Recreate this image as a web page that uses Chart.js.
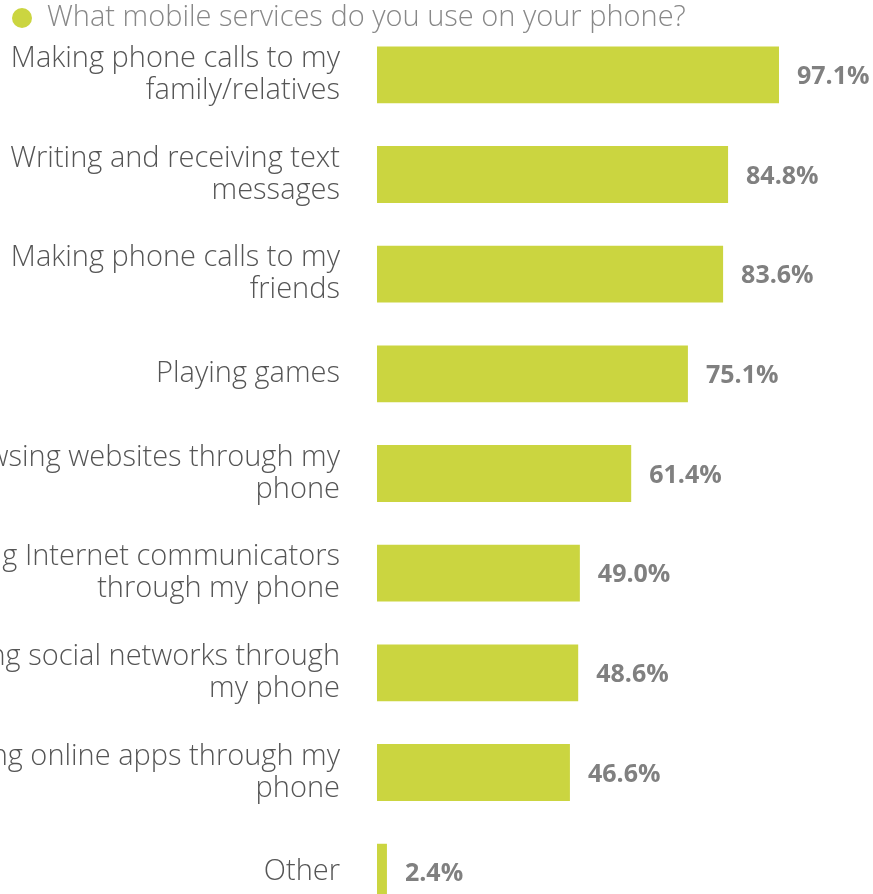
<!DOCTYPE html>
<html>
<head>
<meta charset="utf-8">
<title>Mobile services</title>
<script src="https://cdn.jsdelivr.net/npm/chart.js@4"></script>
<style>
  html, body { margin: 0; padding: 0; background: #fff; overflow: hidden; }
  #wrap { width: 873px; height: 894px; overflow: hidden; }
</style>
</head>
<body>
<div id="wrap">
  <canvas id="services" width="873" height="930"></canvas>
</div>
<script>
const seriesLabel = "What mobile services do you use on your phone?";
const categories = [
  ["Making phone calls to my", "family/relatives"],
  ["Writing and receiving text", "messages"],
  ["Making phone calls to my", "friends"],
  "Playing games",
  ["Browsing websites through my", "phone"],
  ["Using Internet communicators", "through my phone"],
  ["Using social networks through", "my phone"],
  ["Using online apps through my", "phone"],
  "Other",
];
const shares = [97.1, 84.8, 83.6, 75.1, 61.4, 49.0, 48.6, 46.6, 2.4];

const barColor = "#cbd540";
const fontFamily = "'Open Sans', 'DejaVu Sans', sans-serif";

// percentage text right after each bar
const valueLabels = {
  id: "valueLabels",
  afterDatasetsDraw(chart) {
    const ctx = chart.ctx;
    const meta = chart.getDatasetMeta(0);
    ctx.save();
    ctx.font = "bold 25px " + fontFamily;
    ctx.fillStyle = "#808080";
    ctx.textAlign = "left";
    ctx.textBaseline = "middle";
    meta.data.forEach((bar, i) => {
      ctx.fillText(shares[i].toFixed(1) + "%", bar.x + 18, bar.y + 2);
    });
    ctx.restore();
  },
};

// single-entry legend in the top left corner
const topLegend = {
  id: "topLegend",
  afterDraw(chart) {
    const ctx = chart.ctx;
    ctx.save();
    ctx.fillStyle = barColor;
    ctx.beginPath();
    ctx.arc(22, 18, 10, 0, Math.PI * 2);
    ctx.fill();
    ctx.font = "300 29px " + fontFamily;
    ctx.fillStyle = "#888888";
    ctx.textAlign = "left";
    ctx.textBaseline = "middle";
    ctx.fillText(chart.data.datasets[0].label, 47, 18);
    ctx.restore();
  },
};

new Chart(document.getElementById("services"), {
  type: "bar",
  data: {
    labels: categories,
    datasets: [
      {
        label: seriesLabel,
        data: shares,
        backgroundColor: barColor,
        borderWidth: 0,
        categoryPercentage: 1,
        barPercentage: 0.57,
      },
    ],
  },
  options: {
    indexAxis: "y",
    responsive: false,
    animation: false,
    layout: { padding: { top: 25, bottom: 8, left: 0, right: 82 } },
    plugins: {
      legend: { display: false },
      tooltip: { enabled: false },
    },
    scales: {
      x: { display: false, min: 0, max: 100 },
      y: {
        grid: { display: false, drawTicks: false },
        border: { display: false },
        afterFit(scale) {
          // fixed gutter for the labels; long ones run off the left edge
          scale.width = 377;
          scale.paddingTop = 0;
          scale.paddingBottom = 0;
        },
        ticks: {
          autoSkip: false,
          padding: 37,
          color: "#555555",
          font: { family: fontFamily, size: 29, weight: 300, lineHeight: 1.1 },
        },
      },
    },
  },
  plugins: [valueLabels, topLegend],
});
</script>
</body>
</html>
